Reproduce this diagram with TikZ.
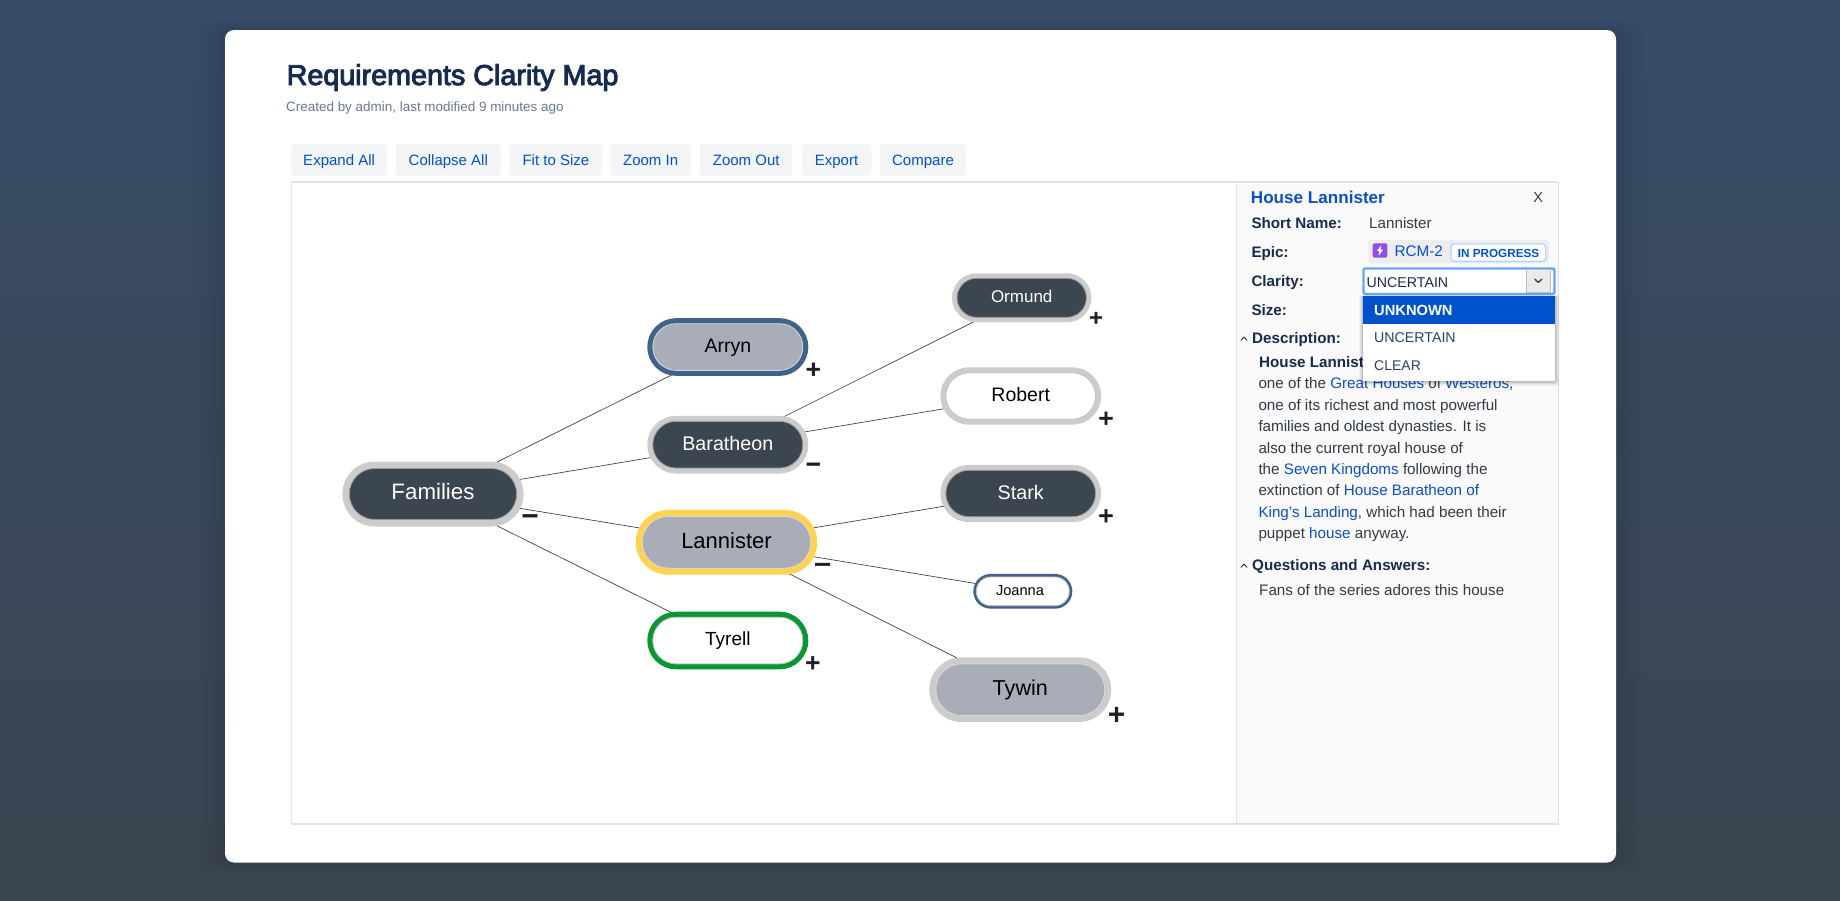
\documentclass[tikz,border=0pt]{standalone}
\usepackage{fontspec}
\setmainfont{Liberation Sans}
\newfontfamily\signfont[RawFeature={embolden=2.5}]{DejaVu Sans Bold}
\newfontfamily\titlefont[RawFeature={embolden=3.4}]{Liberation Sans}
\usetikzlibrary{shapes.misc,backgrounds}
\definecolor{pagetop}{HTML}{374B67}
\definecolor{pagebot}{HTML}{3A4550}
\definecolor{ink}{HTML}{172B4D}
\definecolor{body}{HTML}{333A45}
\definecolor{muted}{HTML}{6B778C}
\definecolor{link}{HTML}{0B4FC4}
\definecolor{btnfill}{HTML}{F4F5F7}
\definecolor{framec}{HTML}{E2E2E2}
\definecolor{darkfill}{HTML}{3B4650}
\definecolor{grayfill}{HTML}{A9ADB8}
\definecolor{bordgray}{HTML}{CCCCCC}
\definecolor{bordblue}{HTML}{40638A}
\definecolor{bordyel}{HTML}{FFD24F}
\definecolor{bordgreen}{HTML}{0A9632}
\definecolor{edgec}{HTML}{3A3A3A}
\definecolor{sel}{HTML}{0052CC}
\newcommand{\fs}[1]{\fontsize{#1}{#1}\selectfont}
\newcommand{\lk}[1]{\textcolor{link}{#1}}
\tikzset{
  x=1pt,y=-1pt,
  pill/.style n args={6}{rounded rectangle,inner sep=0pt,outer sep=0pt,
    minimum width=#1,minimum height=#2,
    preaction={draw=#3,line width=2*#4},fill=#5,draw=#6,line width=.8pt},
  lift/.style 2 args={text height=#1pt,text depth=#2pt},
  conn/.style={draw=edgec,line width=.65pt},
  btn/.style={rounded corners=3pt,fill=btnfill},
  btnlabel/.style={text=sel,font=\fs{15},inner sep=0pt,anchor=base},
  lbl/.style={anchor=base west,inner sep=0pt,font=\fs{15.2}\bfseries,text=ink},
  txt/.style={anchor=base west,inner sep=0pt,font=\fs{15.2},text=body},
  sign/.style={inner sep=0pt,font=\signfont\fs{20.5},text=black!88},
  caretmark/.style={draw=body,line width=1pt,line cap=round,line join=round},
}
\begin{document}
\begin{tikzpicture}
\useasboundingbox (0,0) rectangle (1840,900);
\begin{scope}[on background layer]
  \shade[top color=pagetop,bottom color=pagebot] (0,0) rectangle (1840,900);
  \foreach \d in {4,8,12,16,20,24,28}
    \fill[black,opacity=.006,rounded corners=12pt] (225-\d,30-\d/3) rectangle (1616+\d,862.5+\d/3);
  \fill[white,rounded corners=9pt] (225,30) rectangle (1616,862.5);
  \foreach \a/\b/\c in {291.4/386.8/144,396/500.6/144,509.8/602/144,610.3/691/144,700/792.4/144,801.6/871.5/144,879.7/966.4/144}
    \fill[btn] (\a,\c) rectangle (\b,175.7);
  \draw[framec,line width=1.5pt,fill=white] (291.4,182) rectangle (1558.3,823.8);
  \draw[framec,line width=1.5pt,fill=black!2] (1236.7,182) rectangle (1558.3,823.8);
\end{scope}

% heading
\node[anchor=base west,inner sep=0pt,font=\titlefont\fs{28.7},text=ink] (title) at (286.5,85) {Requirements Clarity Map};
\node[anchor=base west,inner sep=0pt,font=\fs{13.45},text=muted] (sub) at (286,111.5) {Created by admin, last modified 9 minutes ago};

% toolbar
\node[btnlabel] (b1) at (339.1,165) {Expand All};
\node[btnlabel] (b2) at (448.3,165) {Collapse All};
\node[btnlabel] (b3) at (555.9,165) {Fit to Size};
\node[btnlabel] (b4) at (650.6,165) {Zoom In};
\node[btnlabel] (b5) at (746.2,165) {Zoom Out};
\node[btnlabel] (b6) at (836.5,165) {Export};
\node[btnlabel] (b7) at (923,165) {Compare};

% map nodes
\node[pill={167.3}{51}{bordgray}{7}{darkfill}{black!40},lift={17.7}{6.3},text=white,font=\fs{22.3}] (fam) at (433,494) {Families};
\node[pill={150}{46.7}{bordblue}{5.5}{grayfill}{black!15},lift={17.3}{6.7},text=black,font=\fs{19.5}] (arr) at (727.8,347) {Arryn};
\node[pill={150}{46.7}{bordgray}{5.5}{darkfill}{black!40},lift={17.6}{6.4},text=white,font=\fs{19.7}] (bar) at (727.8,444.7) {Baratheon};
\node[pill={168.6}{51.7}{bordyel}{6.5}{grayfill}{black!15},lift={18.4}{5.6},text=black,font=\fs{22}] (lan) at (726.5,542.3) {Lannister};
\node[pill={150}{46.7}{bordgreen}{5.5}{white}{black!25},lift={16.8}{7.2},text=black,font=\fs{19}] (tyr) at (727.8,640.5) {Tyrell};
\node[pill={129.3}{39}{bordgray}{5}{darkfill}{black!40},lift={16.2}{7.8},text=white,font=\fs{17}] (orm) at (1021.7,297.8) {Ormund};
\node[pill={149.7}{46.4}{bordgray}{5.5}{white}{black!25},lift={17.3}{6.7},text=black,font=\fs{19.5}] (rob) at (1020.7,396) {Robert};
\node[pill={149.7}{46.4}{bordgray}{5.5}{darkfill}{black!40},lift={17.8}{6.2},text=white,font=\fs{19.7}] (sta) at (1020.7,493.5) {Stark};
\node[pill={93}{28.7}{bordblue}{3}{white}{black!25},lift={16}{8},text=black,font=\fs{14.6}] (joa) at (1022.8,591.3) {Joanna\kern5.6pt};
\node[pill={169}{51.7}{bordgray}{6.5}{grayfill}{black!15},lift={17.7}{6.3},text=black,font=\fs{21.6}] (tyw) at (1020.3,689.7) {Tywin};

% connectors
\begin{scope}[on background layer]
  \draw[conn] (fam) -- (arr);
  \draw[conn] (fam) -- (bar);
  \draw[conn] (fam) -- (lan);
  \draw[conn] (fam) -- (tyr);
  \draw[conn] (bar) -- (orm);
  \draw[conn] (bar) -- (rob);
  \draw[conn] (lan) -- (sta);
  \draw[conn] (lan) -- (joa);
  \draw[conn] (lan) -- (tyw);
\end{scope}

% expand / collapse marks
\node[sign] (s1) at (813.3,369.3) {+};
\node[sign,font=\signfont\fs{18}] (s2) at (1096,317.7) {+};
\node[sign] (s3) at (1106,418.3) {+};
\node[sign] (s4) at (1106,515.7) {+};
\node[sign] (s5) at (813.3,466.7) {−};
\node[sign,font=\signfont\fs{23}] (s6) at (530,518.7) {−};
\node[sign,font=\signfont\fs{23}] (s7) at (822.7,567.3) {−};
\node[sign] (s8) at (812.7,662.7) {+};
\node[sign,font=\signfont\fs{23}] (s9) at (1116.5,714.3) {+};

% side panel
\node[anchor=base west,inner sep=0pt,font=\fs{17.1}\bfseries,text=link] (hd) at (1250.7,203.2) {House Lannister};
\node[inner sep=0pt,font=\fs{14.5},text=body] (closex) at (1538.3,197.7) {X};
\node[lbl] (l1) at (1251.3,228.5) {Short Name:};
\node[txt] (v1) at (1369,228.5) {Lannister};
\node[lbl] (l2) at (1251.3,257.8) {Epic:};
\fill[black!7,rounded corners=3pt] (1368.3,240) rectangle (1549,263.3);
\fill[rounded corners=2pt,fill={rgb,255:red,144;green,78;blue,226}] (1372.7,243.3) rectangle (1387.3,257.7);
\fill[white] (1381.3,245.2) -- (1376.8,251) -- (1379.4,251) -- (1378.6,255.8) -- (1383.2,249.6) -- (1380.5,249.6) -- cycle;
\node[anchor=base west,inner sep=0pt,font=\fs{15.3},text=sel] (rcm) at (1394.3,256.4) {RCM-2};
\draw[draw={rgb,255:red,179;green,212;blue,255},fill=white,line width=1.4pt,rounded corners=3pt] (1451,244) rectangle (1545.7,261.3);
\node[anchor=base west,inner sep=0pt,font=\fs{11.7}\bfseries,text=sel] (prog) at (1457.7,257.6) {IN PROGRESS};
\node[lbl] (l3) at (1251.3,286.8) {Clarity:};
\node[lbl] (l4) at (1251.3,315.3) {Size:};
\draw[caretmark] (1241,340.3) -- (1244,337) -- (1247,340.3);
\node[lbl] (l5) at (1252,343) {Description:};
\node[txt,font=\fs{15.2}\bfseries,text=ink] (d0) at (1259,367.5) {House Lannist};
\node[txt] (d1) at (1258.3,388.7) {one of the \lk{Great Houses} of \lk{Westeros},};
\node[txt] (d2) at (1258.3,410) {one of its richest and most powerful};
\node[txt] (d3) at (1258.3,431.5) {families and oldest dynasties. It is};
\node[txt] (d4) at (1258.3,453) {also the current royal house of};
\node[txt] (d5) at (1258.3,474.3) {the \lk{Seven Kingdoms} following the};
\node[txt] (d6) at (1258.3,495.6) {extinction of \lk{House Baratheon of}};
\node[txt] (d7) at (1258.3,517) {\lk{King's Landing}, which had been their};
\node[txt] (d8) at (1258.3,538.3) {puppet \lk{house} anyway.};
\draw[caretmark] (1241,567.3) -- (1244,564) -- (1247,567.3);
\node[lbl] (l6) at (1252,570) {Questions and Answers:};
\node[txt] (d9) at (1259,595.3) {Fans of the series adores this house};

% select box and its list
\draw[draw={rgb,255:red,100;green,165;blue,250},fill=white,line width=2.4pt,rounded corners=2pt] (1363.5,268.5) rectangle (1554.5,294);
\node[anchor=base west,inner sep=0pt,font=\fs{14.2},text=ink] (selv) at (1366.5,287) {UNCERTAIN};
\draw[draw=black!25,fill=black!8,line width=.8pt] (1526.7,269.5) rectangle (1550,292.7);
\draw[draw=black!70,line width=1.5pt,line cap=round,line join=round] (1534.8,279.2) -- (1538.3,282.4) -- (1541.8,279.2);
\foreach \d/\o in {4/.04,3/.05,2/.07,1/.09}
  \fill[black,opacity=\o,rounded corners=2pt] (1363-\d,295.7) rectangle (1555.3+\d,380.7+\d+1);
\fill[white] (1363,295.7) rectangle (1555.3,380.7);
\fill[sel] (1363,295.7) rectangle (1555.3,323.7);
\node[anchor=base west,inner sep=0pt,font=\fs{14.7}\bfseries,text=white] (o1) at (1374,315) {UNKNOWN};
\node[anchor=base west,inner sep=0pt,font=\fs{14.2},text=ink!90] (o2) at (1374,342.4) {UNCERTAIN};
\node[anchor=base west,inner sep=0pt,font=\fs{14},text=ink!90] (o3) at (1374,370) {CLEAR};
\end{tikzpicture}
\end{document}
